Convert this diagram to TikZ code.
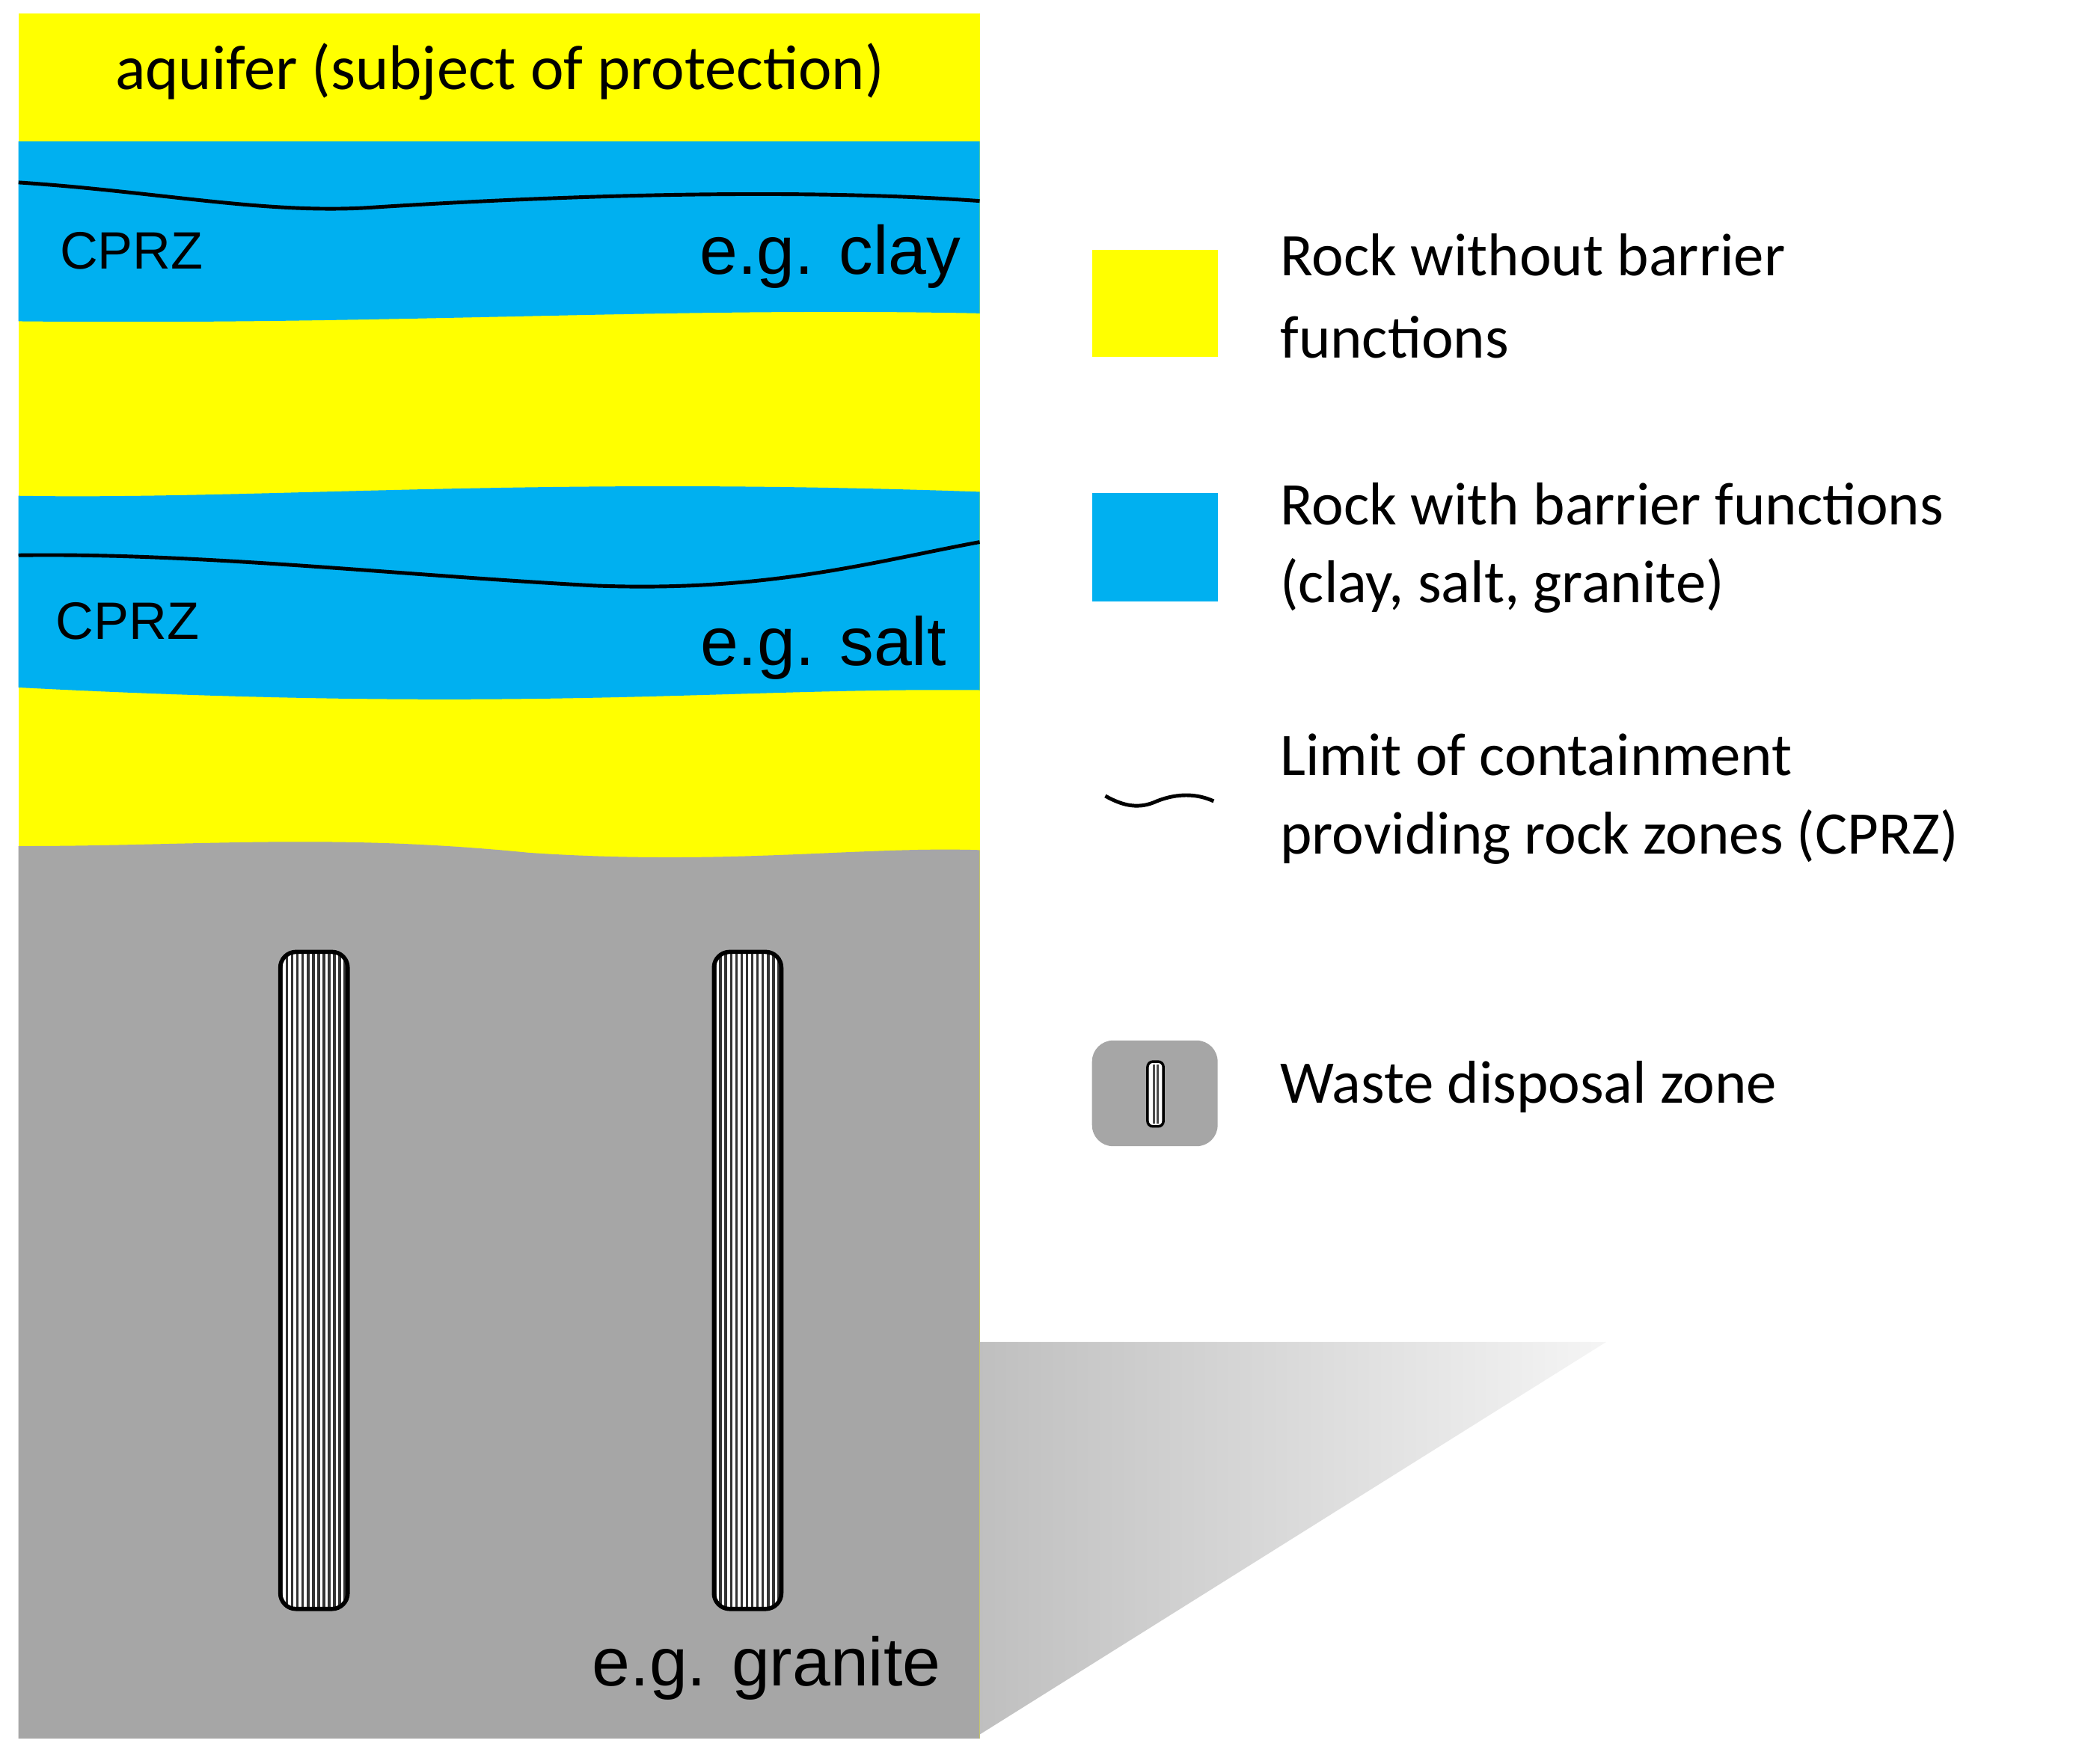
\documentclass[tikz,border=0pt]{standalone}
\usepackage{fontspec}
\setmainfont{Carlito}
\newfontfamily\arl{Liberation Sans}
\begin{document}
\begin{tikzpicture}[x=0.01767cm,y=-0.01767cm,
  yel/.style={fill={rgb,255:red,255;green,255;blue,0}},
  blu/.style={fill={rgb,255:red,0;green,176;blue,240}},
  gry/.style={fill={rgb,255:red,166;green,166;blue,166}},
  lim/.style={draw=black,line width=1.4pt},
  leg/.style={anchor=west,font=\fontsize{23}{28}\selectfont,inner sep=0pt},
  lab/.style={font=\arl\fontsize{26}{30}\selectfont,inner sep=0pt},
  cprz/.style={font=\arl\fontsize{20}{24}\selectfont,inner sep=0pt,anchor=west}]
\useasboundingbox (0,0) rectangle (1568,1334);
% shadow
\shade[left color=gray!50,right color=gray!8,shading angle=90] (741,1015) -- (1215,1015) -- (741,1312) -- cycle;
% column
\fill[yel] (14,10) rectangle (741,1315);
\fill[blu] (14,107) -- (741,107) -- (741,237) .. controls (500,232) and (300,246) .. (14,243) -- cycle;
\fill[blu] (14,375) .. controls (200,378) and (400,360) .. (741,372) -- (741,522) .. controls (550,520) and (400,540) .. (14,520) -- cycle;
\fill[gry] (14,640) .. controls (150,640) and (250,630) .. (400,645) .. controls (550,655) and (650,640) .. (741,643) -- (741,1315) -- (14,1315) -- cycle;
\draw[lim] (14,138) .. controls (120,145) and (200,162) .. (280,157) .. controls (420,148) and (600,142) .. (741,152);
\draw[lim] (14,420) .. controls (150,418) and (300,435) .. (450,443) .. controls (580,448) and (660,425) .. (741,410);
% canisters
\foreach \cx in {212,540}{
  \begin{scope}
  \clip[rounded corners=6] (\cx,720) rectangle ++(51,497);
  \fill[white] (\cx,720) rectangle ++(51,497);
  \foreach \i in {0,...,12}{\fill[black!80] (\cx+\i*4,720) rectangle ++(2,497);}
  \end{scope}
  \draw[line width=1.6pt,rounded corners=6] (\cx,720) rectangle ++(51,497);
}
% texts
\node[inner sep=0pt,font=\fontsize{24}{28}\selectfont] (aq) at (378,54) {aquifer (subject of protection)};
\node[cprz] (c1) at (45,190) {CPRZ};
\node[cprz] (c2) at (42,470) {CPRZ};
\node[lab,anchor=east] (clay) at (727,194) {e.g. clay};
\node[lab,anchor=east] (salt) at (716,490) {e.g. salt};
\node[lab,anchor=east] (gran) at (712,1262) {e.g. granite};
% legend
\fill[yel] (826,189) rectangle (921,270);
\fill[blu] (826,373) rectangle (921,455);
\draw[line width=1.4pt] (836,602) .. controls (850,610) and (862,612) .. (875,606) .. controls (890,600) and (905,600) .. (918,606);
\fill[gry,rounded corners=8] (826,787) rectangle (921,867);
\draw[line width=1pt,rounded corners=2,fill=white] (868,803) rectangle (880,852);
\fill[black!70] (872,805) rectangle (873.5,850);\fill[black!70] (875,805) rectangle (876.5,850);
\node[leg] (l1) at (968,193) {Rock without barrier};
\node[leg] (l1b) at (968,255) {functions};
\node[leg] (l2) at (968,381) {Rock with barrier functions};
\node[leg] (l2b) at (968,443) {(clay, salt, granite)};
\node[leg] (l3) at (968,571) {Limit of containment};
\node[leg] (l3b) at (968,633) {providing rock zones (CPRZ)};
\node[leg] (l4) at (968,822) {Waste disposal zone};
\end{tikzpicture}
\end{document}
